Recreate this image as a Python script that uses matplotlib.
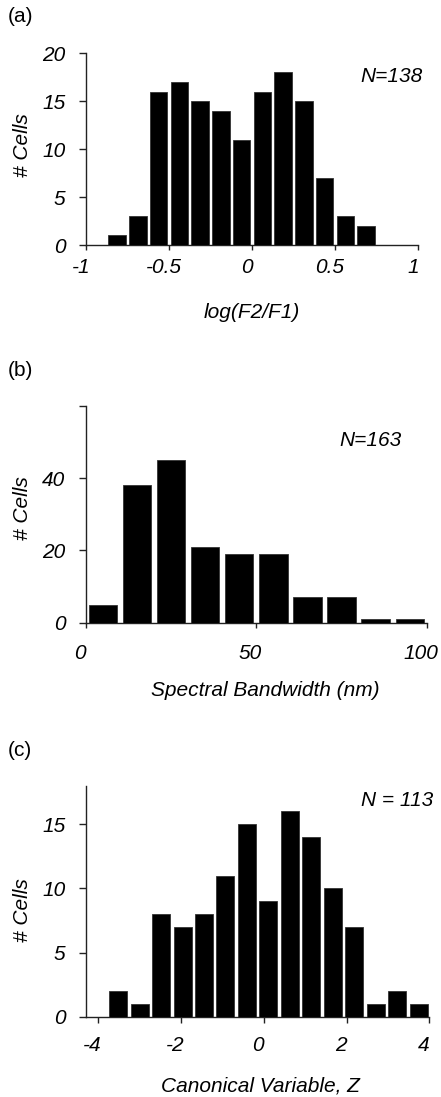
import numpy as np
import matplotlib
matplotlib.use("Agg")
import matplotlib.pyplot as plt
from matplotlib.transforms import ScaledTranslation

plt.rcParams['font.family'] = ['Liberation Sans', 'DejaVu Sans']
plt.rcParams['axes.unicode_minus'] = False

# ---------------- data ----------------
# (a) log(F2/F1)
a_edges = [-1.0, -0.875, -0.75, -0.625, -0.5, -0.375, -0.25, -0.125, 0.0,
           0.125, 0.25, 0.375, 0.5, 0.625, 0.75, 0.875, 1.0]
a_counts = [0, 1, 3, 16, 17, 15, 14, 11, 16, 18, 15, 7, 3, 2, 0, 0]
a_xticks = [-1, -0.5, 0, 0.5, 1]
a_xticklabels = ['-1', '-0.5', '0', '0.5', '1']
a_yticks = [0, 5, 10, 15, 20]

# (b) spectral bandwidth
b_edges = [0, 10, 20, 30, 40, 50, 60, 70, 80, 90, 100]
b_counts = [5, 38, 45, 21, 19, 19, 7, 7, 1, 1]
b_xticks = [0, 50, 100]
b_yticks = [0, 20, 40, 60]
b_yticklabels = ['0', '20', '40', '']

# (c) canonical variable Z
c_range = (-4.3, 4.0)
c_counts = [0, 2, 1, 8, 7, 8, 11, 15, 9, 16, 14, 10, 7, 1, 2, 1]
c_xticks = [-4, -2, 0, 2, 4]
c_yticks = [0, 5, 10, 15]

W, H = 441, 1097
fig = plt.figure(figsize=(W / 100, H / 100), dpi=100)


def px_axes(left, right, top, bottom):
    return fig.add_axes([left / W, 1 - bottom / H, (right - left) / W, (bottom - top) / H])


FS = 15
spine_col = '#222222'


def style(ax, xpad, ylen=4.8, xlen=3.6, xshift=-5):
    for s in ['top', 'right']:
        ax.spines[s].set_visible(False)
    for s in ['left', 'bottom']:
        ax.spines[s].set_color(spine_col)
        ax.spines[s].set_linewidth(1.0)
    ax.tick_params(axis='y', direction='out', length=ylen, width=1.0, color=spine_col,
                   pad=10, labelsize=FS)
    ax.tick_params(axis='x', direction='out', length=xlen, width=1.0, color=spine_col,
                   pad=xpad, labelsize=FS)
    off = ScaledTranslation(xshift / 100, 0, fig.dpi_scale_trans)
    for lab in ax.get_xticklabels():
        lab.set_fontstyle('italic')
        lab.set_transform(lab.get_transform() + off)
    for lab in ax.get_yticklabels():
        lab.set_fontstyle('italic')


def hist_bars(ax, edges, counts, frac):
    edges = np.asarray(edges, dtype=float)
    centers = (edges[:-1] + edges[1:]) / 2
    widths = (edges[1:] - edges[:-1]) * frac
    ax.bar(centers, counts, width=widths, color='black', edgecolor='#333333',
           linewidth=0.6, align='center', zorder=3)


# ---- panel (a)
axA = px_axes(86, 418, 53.3, 245)
hist_bars(axA, a_edges, a_counts, 0.85)
axA.set_xlim(-1, 1)
axA.set_ylim(0, 20)
axA.set_xticks(a_xticks)
axA.set_xticklabels(a_xticklabels)
axA.set_yticks(a_yticks)
style(axA, xpad=5.5, xlen=3.6)

# ---- panel (b)
axB = px_axes(86, 426.7, 405.7, 622.7)
hist_bars(axB, b_edges, b_counts, 0.83)
axB.set_xlim(0, 100)
axB.set_ylim(0, 60)
axB.set_xticks(b_xticks)
axB.set_yticks(b_yticks)
axB.set_yticklabels(b_yticklabels)
style(axB, xpad=12, xlen=3.4, xshift=-6)

# ---- panel (c)
axC = px_axes(86, 429.3, 785.7, 1016.7)
c_edges = np.linspace(c_range[0], c_range[1], len(c_counts) + 1)
hist_bars(axC, c_edges, c_counts, 0.84)
axC.set_xlim(*c_range)
axC.set_ylim(0, 18)
axC.set_xticks(c_xticks)
axC.set_yticks(c_yticks)
style(axC, xpad=10, xlen=4.1, xshift=-6)

# ---- texts (pixel positions)
def ftext(x, y, s, **kw):
    fig.text(x / W, 1 - y / H, s, fontsize=FS, **kw)

ftext(8, 17, '(a)', ha='left', va='center')
ftext(8, 370, '(b)', ha='left', va='center')
ftext(8, 750, '(c)', ha='left', va='center')

for y in (145, 508, 910):
    ftext(23, y, '# Cells', rotation=90, ha='center', va='center', style='italic')

ftext(252, 313, 'log(F2/F1)', ha='center', va='center', style='italic')
ftext(265, 691, 'Spectral Bandwidth (nm)', ha='center', va='center', style='italic')
ftext(260, 1086, 'Canonical Variable, Z', ha='center', va='center', style='italic')

ftext(423, 76, 'N=138', ha='right', va='center', style='italic')
ftext(402, 441, 'N=163', ha='right', va='center', style='italic')
ftext(433, 800, 'N = 113', ha='right', va='center', style='italic')

fig.savefig('out.png', dpi=100)
